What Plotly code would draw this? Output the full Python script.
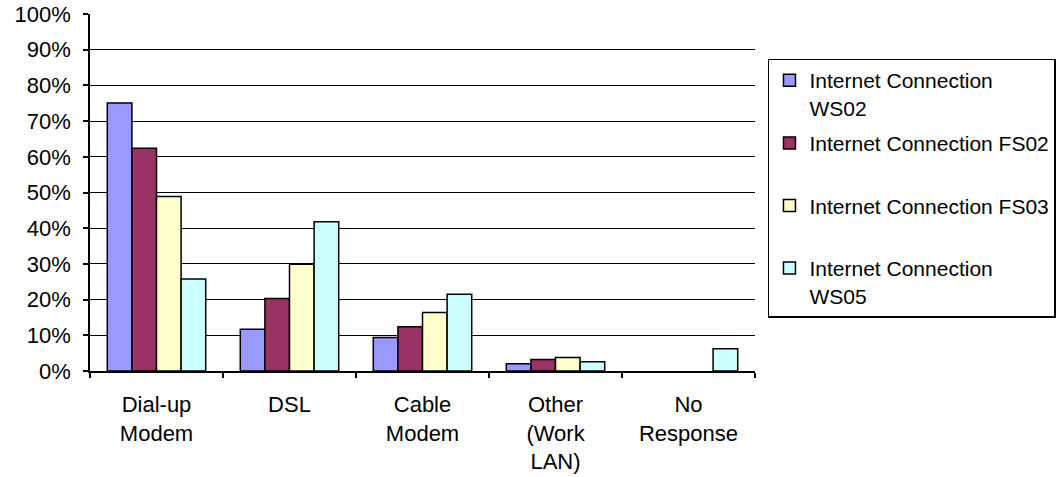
import plotly.graph_objects as go

categories = ["Dial-up<br>Modem", "DSL", "Cable<br>Modem", "Other<br>(Work<br>LAN)", "No<br>Response"]
series_names = [
    "Internet Connection<br>WS02",
    "Internet Connection FS02<br>\u00a0",
    "Internet Connection FS03<br>\u00a0",
    "Internet Connection<br>WS05",
]
ws02 = [0.751, 0.117, 0.094, 0.020, None]
fs02 = [0.624, 0.203, 0.124, 0.032, None]
fs03 = [0.489, 0.299, 0.164, 0.038, None]
ws05 = [0.258, 0.418, 0.215, 0.026, 0.062]
colors = ["#9999FF", "#993366", "#FFFFCC", "#CCFFFF"]

FONT = "Liberation Sans, Arial, sans-serif"

fig = go.Figure()
for i, (name, vals) in enumerate(zip(series_names, [ws02, fs02, fs03, ws05])):
    fig.add_trace(go.Bar(
        x=categories, y=vals, name=name,
        legendgroup=f"g{i}",
        marker=dict(color=colors[i], line=dict(color="black", width=1.5)),
    ))

fig.update_layout(
    width=1057, height=477,
    margin=dict(l=90, r=302, t=14, b=106, autoexpand=False),
    paper_bgcolor="white", plot_bgcolor="white",
    barmode="group", bargap=0.26, bargroupgap=0,
    font=dict(family=FONT, size=22, color="black"),
    showlegend=True,
    legend=dict(
        x=1.0195, y=0.875, xanchor="left", yanchor="top",
        bordercolor="black", borderwidth=1.5,
        font=dict(size=21, family=FONT),
        tracegroupgap=5, valign="top",
        itemwidth=30,
    ),
)
fig.update_yaxes(
    range=[0, 1], dtick=0.1, tickformat=".0%",
    showgrid=True, gridcolor="black", gridwidth=1,
    showline=True, linecolor="black", linewidth=1.5,
    ticks="outside", ticklen=5, tickcolor="black", tickwidth=1.5,
    ticklabelstandoff=8,
    zeroline=False, automargin=False,
)
fig.update_xaxes(
    showline=True, linecolor="black", linewidth=1.5,
    ticks="outside", ticklen=5, tickcolor="black", tickwidth=1.5,
    tickson="boundaries", showgrid=False,
    ticklabelstandoff=13, automargin=False,
)

fig.write_html(
    "out.html",
    config={"displayModeBar": False},
    post_script="document.body.style.margin='0';",
)
